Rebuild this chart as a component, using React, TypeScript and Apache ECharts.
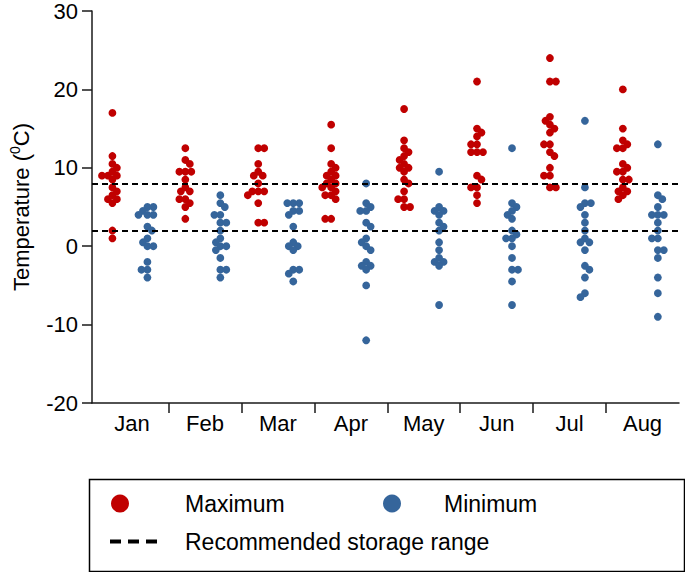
import React, { useEffect, useRef } from "react";
import * as echarts from "echarts";

const months = ["Jan", "Feb", "Mar", "Apr", "May", "Jun", "Jul", "Aug"];
const yTicks = { min: -20, max: 30, interval: 10 };
const storageRange = [2, 8];

const maxJan = [17, 11.5, 10.5, 10, 9.5, 9, 9, 9, 8.5, 7.5, 7, 6.5, 6, 6, 5.5, 2, 1];
const maxFeb = [12.5, 11, 10.5, 9.5, 9.5, 9.5, 8.5, 7.5, 7, 7, 6, 6, 5.5, 5, 3.5];
const maxMar = [12.5, 12.5, 10.5, 9.5, 9, 9, 8, 7, 7, 7, 6.5, 5.5, 3, 3];
const maxApr = [15.5, 12.5, 10.5, 10, 9.5, 9, 9, 8.5, 8, 8, 7.5, 7.5, 7, 6.5, 6.5, 6, 3.5, 3.5];
const maxMay = [17.5, 13.5, 12.5, 12, 11.5, 11, 10.5, 10, 10, 9.5, 8.5, 8, 7, 6, 6, 5, 5];
const maxJun = [21, 15, 14.5, 14, 13, 13, 12, 12, 12, 9, 8.5, 7.5, 7.5, 6.5, 5.5];
const maxJul = [24, 21, 21, 16.5, 16, 15.5, 15, 14.5, 13, 13, 12, 11.5, 10, 9, 9, 7.5, 7.5];
const maxAug = [20, 15, 13.5, 13, 12.5, 12.5, 10.5, 10, 9.5, 9.5, 8.5, 8.5, 7.5, 7, 7, 6.5, 6];

const minJan = [5, 5, 4.5, 4, 4, 4, 2.5, 2, 1, 0.5, 0, 0, -2, -3, -3, -4];
const minFeb = [6.5, 5.5, 5, 4, 4, 3, 3, 2, 1, 0.5, 0, 0, -0.5, -1.5, -3, -3, -4];
const minMar = [5.5, 5.5, 5.5, 4.5, 4.5, 4, 2.5, 0.5, 0, 0, -0.5, -3, -3, -3.5, -4.5];
const minApr = [8, 5.5, 5, 4.5, 4.5, 3, 2.5, 1, 0.5, 0, -0.5, -2, -2.5, -2.5, -3, -5, -12];
const minMay = [9.5, 5, 4.5, 4.5, 4, 3, 2.5, 2, 0.5, -0.5, -1.5, -2, -2, -2.5, -7.5];
const minJun = [12.5, 5.5, 5, 4.5, 4, 3.5, 2, 1.5, 1, 1, 0, -1.5, -3, -3, -4.5, -7.5];
const minJul = [16, 7.5, 5.5, 5.5, 5, 4, 3, 2, 1, 0.5, 0.5, -0.5, -2.5, -3, -4, -6, -6.5];
const minAug = [13, 6.5, 6, 5, 4, 4, 4, 3, 2, 1, 1, -0.5, -0.5, -1.5, -4, -6, -9];

const maximumByMonth = [maxJan, maxFeb, maxMar, maxApr, maxMay, maxJun, maxJul, maxAug];
const minimumByMonth = [minJan, minFeb, minMar, minApr, minMay, minJun, minJul, minAug];

// layout constants for the swarm (pixels per data unit)
const PX_PER_DEG = 7.86;
const PX_PER_UNIT = 73.3;
const DIAM = 5.8;
const MAX_OFFSET = 0.23;
const MIN_OFFSET = 0.71;

function swarm(vals: number[]): number[] {
  const idx = vals.map((_, i) => i).sort((a, b) => vals[b] - vals[a]);
  const placed: { x: number; y: number }[] = [];
  const out = new Array(vals.length).fill(0);
  let flip = 1;
  for (const i of idx) {
    const y = vals[i] * PX_PER_DEG;
    let chosen = 0;
    for (let k = 0; k < 100; k++) {
      const cands = k === 0 ? [0] : [flip * k * 0.5, -flip * k * 0.5];
      let found: number | null = null;
      for (const c of cands) {
        if (placed.every((p) => (p.x - c) ** 2 + (p.y - y) ** 2 >= DIAM * DIAM)) {
          found = c;
          break;
        }
      }
      if (found !== null) {
        chosen = found;
        break;
      }
    }
    if (chosen !== 0) flip = -flip;
    placed.push({ x: chosen, y });
    out[i] = chosen / PX_PER_UNIT;
  }
  return out;
}

function buildPoints(groups: number[][], base: number): number[][] {
  const pts: number[][] = [];
  groups.forEach((vals, m) => {
    const offs = swarm(vals);
    vals.forEach((v, j) => pts.push([m + base + offs[j], v]));
  });
  return pts;
}

const FONT = "Arial, 'Liberation Sans', Helvetica, sans-serif";
const RED = "#c00000";
const BLUE = "#35659b";

export default function App() {
  const ref = useRef<HTMLDivElement>(null);
  useEffect(() => {
    if (!ref.current) return;
    const chart = echarts.init(ref.current, null, { renderer: "svg" });
    const axisColor = "#1a1a1a";
    chart.setOption({
      animation: false,
      backgroundColor: "#fff",
      textStyle: { fontFamily: FONT },
      grid: { left: 89, right: 6, top: 10, bottom: 169, containLabel: false },
      xAxis: {
        type: "value",
        min: -0.05,
        max: months.length,
        axisLine: { show: true, onZero: false, lineStyle: { color: axisColor, width: 1.5 } },
        splitLine: { show: false },
        axisTick: {
          show: true,
          length: 10,
          customValues: months.slice(1).map((_, i) => i + 1),
          lineStyle: { color: axisColor, width: 1.5 },
        },
        axisLabel: {
          customValues: months.map((_, i) => i + 0.5),
          formatter: (v: number) => months[Math.round(v - 0.5)] ?? "",
          fontSize: 22,
          color: "#000",
          margin: 9,
          fontFamily: FONT,
        },
      },
      yAxis: {
        type: "value",
        min: yTicks.min,
        max: yTicks.max,
        interval: yTicks.interval,
        name: "Temperature ({sup|0}C)",
        nameLocation: "middle",
        nameGap: 58,
        nameTextStyle: {
          fontSize: 22,
          color: "#000",
          fontFamily: FONT,
          lineHeight: 26,
          rich: { sup: { fontSize: 14, verticalAlign: "top", lineHeight: 26, color: "#000", fontFamily: FONT } },
        },
        axisLine: { show: true, onZero: false, lineStyle: { color: axisColor, width: 1.5 } },
        axisTick: { show: true, length: 10, lineStyle: { color: axisColor, width: 1.5 } },
        splitLine: { show: false },
        axisLabel: { fontSize: 22, color: "#000", margin: 14, fontFamily: FONT },
      },
      legend: [
        {
          data: [{ name: "Maximum", icon: "circle", itemStyle: { color: RED, opacity: 1 } }],
          left: 111,
          top: 492,
          padding: 0,
          itemWidth: 18,
          itemHeight: 18,
          textStyle: { fontSize: 23, color: "#000", fontFamily: FONT, padding: [0, 0, 0, 51] },
          selectedMode: false,
        },
        {
          data: [{ name: "Minimum", icon: "circle", itemStyle: { color: BLUE, opacity: 1 } }],
          left: 383,
          top: 492,
          padding: 0,
          itemWidth: 18,
          itemHeight: 18,
          textStyle: { fontSize: 23, color: "#000", fontFamily: FONT, padding: [0, 0, 0, 38] },
          selectedMode: false,
        },
        {
          data: [
            {
              name: "Recommended storage range",
              icon: "path://M0,0H11V4H0Z M18,0H29V4H18Z M36,0H47V4H36Z",
              itemStyle: { color: "#000", opacity: 1 },
            },
          ],
          left: 110,
          top: 530,
          padding: 0,
          itemWidth: 47,
          itemHeight: 4,
          textStyle: { fontSize: 23, color: "#000", fontFamily: FONT, padding: [0, 0, 0, 23] },
          selectedMode: false,
        },
      ],
      graphic: [
        {
          type: "rect",
          left: 87,
          top: 477,
          shape: { width: 595, height: 92 },
          style: { fill: "none", stroke: "#000", lineWidth: 1.5 },
          silent: true,
        },
      ],
      series: [
        {
          name: "Maximum",
          type: "scatter",
          symbol: "circle",
          symbolSize: 7.8,
          itemStyle: { color: RED, opacity: 1 },
          data: buildPoints(maximumByMonth, MAX_OFFSET),
          z: 3,
        },
        {
          name: "Minimum",
          type: "scatter",
          symbol: "circle",
          symbolSize: 7.8,
          itemStyle: { color: BLUE, opacity: 1 },
          data: buildPoints(minimumByMonth, MIN_OFFSET),
          z: 3,
        },
        {
          name: "Recommended storage range",
          type: "line",
          data: [],
          symbol: "none",
          itemStyle: { color: "#000" },
          lineStyle: { color: "#000", type: [11, 7], width: 3.5 },
          markLine: {
            silent: true,
            symbol: ["none", "none"],
            label: { show: false },
            lineStyle: { color: "#000", type: [6, 4], width: 2 },
            data: storageRange.map((v) => ({ yAxis: v })),
          },
          z: 4,
        },
      ],
    });
    return () => chart.dispose();
  }, []);
  return (
    <div
      ref={ref}
      style={{ position: "fixed", left: 0, top: 0, width: 685, height: 572, background: "#fff" }}
    />
  );
}
